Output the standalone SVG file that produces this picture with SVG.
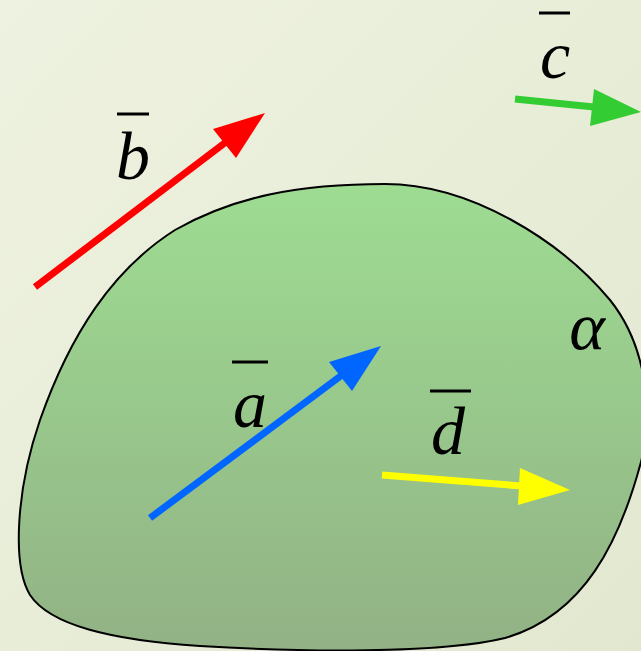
<svg xmlns="http://www.w3.org/2000/svg" width="641" height="651" viewBox="0 0 641 651">
<defs>
<linearGradient id="bg" x1="0" y1="0" x2="1" y2="1">
<stop offset="0" stop-color="#eef2e0"/>
<stop offset="1" stop-color="#e2e8d0"/>
</linearGradient>
<linearGradient id="plane" x1="0" y1="0" x2="0" y2="1">
<stop offset="0" stop-color="#9edc92"/>
<stop offset="1" stop-color="#92b285"/>
</linearGradient>
<style>
.lbl{font-family:'Liberation Serif','Times New Roman',serif;font-style:italic;font-size:68px;fill:#000;text-anchor:middle}
.bar{stroke:#000;stroke-width:3}
.shaft{stroke-width:7;fill:none}
</style>
</defs>
<rect width="641" height="651" fill="url(#bg)"/>
<g id="plane-alpha">
<path d="M385,184 C470,184 560,240 610,300 C650,350 652,420 641,462 C620,540 585,615 505,638 C440,654 300,652 200,646 C110,640 50,625 30,595 C12,565 16,490 40,420 C70,335 112,270 175,230 C235,196 300,184 385,184 Z" fill="url(#plane)" stroke="#000" stroke-width="2"/>
<text class="lbl" x="587" y="349">α</text>
</g>
<g id="connectors">
<g id="vec-b">
<line class="shaft" x1="35" y1="287" x2="226" y2="142" stroke="#ff0000"/>
<polygon points="265,113 213,129 236,158" fill="#ff0000"/>
</g>
<g id="vec-a">
<line class="shaft" x1="150" y1="518" x2="342" y2="375" stroke="#0066ff"/>
<polygon points="381,346 329,362 352,391" fill="#0066ff"/>
</g>
<g id="vec-c">
<line class="shaft" x1="515" y1="99" x2="594" y2="107" stroke="#33cc33"/>
<polygon points="641,112 594,89 590,126" fill="#33cc33"/>
</g>
<g id="vec-d">
<line class="shaft" x1="382" y1="475" x2="522" y2="486" stroke="#ffff00"/>
<polygon points="570,490 520,468 518,505" fill="#ffff00"/>
</g>
</g>
<g id="label-b">
<line class="bar" x1="117" y1="114" x2="149" y2="114"/>
<text class="lbl" x="133" y="179">b</text>
</g>
<g id="label-a">
<line class="bar" x1="232" y1="362" x2="268" y2="362"/>
<text class="lbl" x="250" y="427">a</text>
</g>
<g id="label-c">
<line class="bar" x1="539" y1="13" x2="570" y2="13"/>
<text class="lbl" x="555" y="78">c</text>
</g>
<g id="label-d">
<line class="bar" x1="430" y1="391" x2="471" y2="391"/>
<text class="lbl" x="448" y="454">d</text>
</g>
</svg>
